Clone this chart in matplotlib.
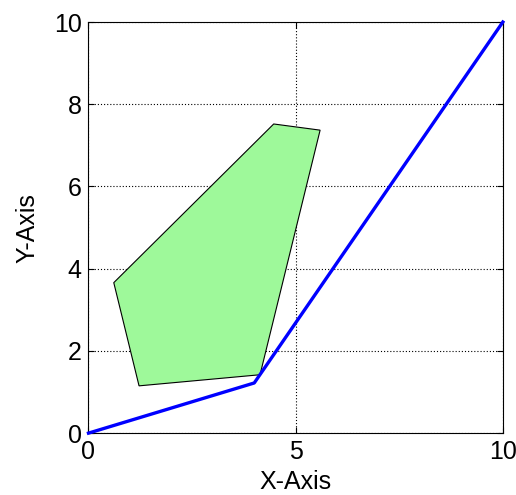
import matplotlib
matplotlib.use('Agg')
import matplotlib.pyplot as plt
from matplotlib.patches import Polygon

plt.rcParams['font.family'] = ['Liberation Sans', 'DejaVu Sans']

# polygon corners
poly_x = [0.61, 4.47, 5.59, 4.14, 1.22]
poly_y = [3.66, 7.52, 7.37, 1.42, 1.15]

# blue path
path_x = [0, 4.0, 10]
path_y = [0, 1.22, 10]

xticks = [0, 5, 10]
yticks = [0, 2, 4, 6, 8, 10]

fig = plt.figure(figsize=(5.16, 4.95), dpi=100)
ax = fig.add_axes([0.1715, 0.125, 0.803, 0.8305])

shape = Polygon(list(zip(poly_x, poly_y)), closed=True,
	facecolor='#9ef99a', edgecolor='black', linewidth=0.8, zorder=2)
ax.add_patch(shape)
ax.plot(path_x, path_y, color='#0000ff', linewidth=2.4, zorder=3,
	solid_joinstyle='round', clip_on=False)

ax.set_xlim(0, 10)
ax.set_ylim(0, 10)
ax.set_xticks(xticks)
ax.set_yticks(yticks)
ax.tick_params(direction='in', length=4, width=0.8, labelsize=18,
	top=True, right=True, pad=5)
ax.grid(True, color='black', linestyle=(0, (1, 1.8)), linewidth=0.8)
ax.set_axisbelow(True)
for s in ax.spines.values():
	s.set_linewidth(0.8)

ax.set_xlabel('X-Axis', fontsize=18, labelpad=4.5)
ax.set_ylabel('Y-Axis', fontsize=18, labelpad=10)

fig.savefig('out.png', dpi=100)
